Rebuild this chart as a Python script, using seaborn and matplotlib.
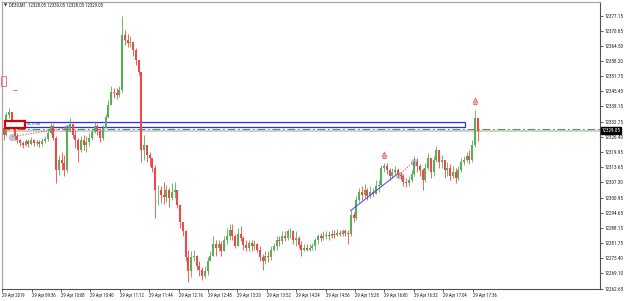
import matplotlib
matplotlib.use("Agg")
import matplotlib.pyplot as plt
from matplotlib.patches import Rectangle
from matplotlib import font_manager
import seaborn as sns
import numpy as np
import pandas as pd

# ---------------- data ----------------
chart_title = "DE30,M1  12328.05 12330.05 12328.05 12329.05"
start_time = "2019-04-29 09:04"
bar_freq = "3min"

opens = [
12330.2, 12327.3, 12335.7, 12336.9, 12332.7, 12326.9, 12325.2, 12323.9, 12323.1, 12324.8,
12323.5, 12325.2, 12323.9, 12324.4, 12323.5, 12324.8, 12325.6, 12328.1, 12331.1, 12326.0,
12312.6, 12316.8, 12315.6, 12312.6, 12330.2, 12331.9, 12327.3, 12325.2, 12321.0, 12325.2,
12323.1, 12324.4, 12326.0, 12328.5, 12331.1, 12329.0, 12326.0, 12330.2, 12334.8, 12339.9,
12345.3, 12344.9, 12344.1, 12346.2, 12369.2, 12367.1, 12365.8, 12366.3, 12362.9, 12358.7,
12353.7, 12321.0, 12323.1, 12318.9, 12317.7, 12313.5, 12304.3, 12304.3, 12302.2, 12301.3,
12304.3, 12300.9, 12303.4, 12304.3, 12298.0, 12290.8, 12286.7, 12275.8, 12269.9, 12275.8,
12276.6, 12272.4, 12270.7, 12268.2, 12269.9, 12274.1, 12276.6, 12281.6, 12279.9, 12281.6,
12278.3, 12283.3, 12285.0, 12287.5, 12285.0, 12280.8, 12285.8, 12284.1, 12281.2, 12279.9,
12282.0, 12280.4, 12281.6, 12279.1, 12275.8, 12274.1, 12276.6, 12275.8, 12279.1, 12280.4,
12283.3, 12282.5, 12285.0, 12284.1, 12286.7, 12286.7, 12283.3, 12284.1, 12281.2, 12279.1,
12279.9, 12279.1, 12279.9, 12280.4, 12283.3, 12284.6, 12284.1, 12285.0, 12285.4, 12285.0,
12285.8, 12285.4, 12286.2, 12285.8, 12286.7, 12286.2, 12285.8, 12293.8, 12292.5, 12300.1,
12303.4, 12302.2, 12304.3, 12301.7, 12303.4, 12302.6, 12305.9, 12306.3, 12313.5, 12314.3,
12312.6, 12310.1, 12311.8, 12312.6, 12310.5, 12310.1, 12307.6, 12307.2, 12308.4, 12311.0,
12316.0, 12314.3, 12312.6, 12308.4, 12313.5, 12317.7, 12311.8, 12316.8, 12321.0, 12316.0,
12316.8, 12312.6, 12313.5, 12310.1, 12311.8, 12309.3, 12312.6, 12316.0, 12316.8, 12318.5,
12316.8, 12323.1, 12334.4,
]
highs = [
12332.3, 12336.9, 12338.6, 12336.9, 12332.7, 12328.1, 12325.6, 12324.8, 12325.6, 12325.6,
12326.5, 12325.6, 12325.6, 12325.2, 12326.0, 12326.9, 12329.4, 12332.7, 12331.9, 12326.9,
12318.9, 12320.2, 12318.9, 12331.5, 12334.4, 12331.5, 12329.4, 12326.0, 12326.9, 12327.3,
12326.9, 12328.1, 12330.2, 12332.7, 12331.9, 12330.2, 12331.5, 12336.1, 12342.0, 12347.8,
12347.0, 12347.0, 12347.8, 12377.15, 12371.3, 12369.6, 12368.8, 12366.3, 12363.7, 12358.7,
12353.7, 12327.3, 12323.1, 12320.2, 12317.7, 12314.7, 12306.3, 12305.9, 12307.6, 12306.3,
12305.1, 12307.2, 12307.6, 12304.3, 12298.0, 12290.8, 12287.5, 12279.1, 12278.3, 12279.1,
12277.0, 12274.1, 12271.6, 12272.4, 12275.8, 12278.3, 12285.0, 12283.3, 12283.3, 12282.5,
12285.0, 12288.3, 12290.0, 12290.0, 12285.8, 12288.3, 12289.2, 12285.0, 12283.3, 12283.3,
12283.3, 12283.3, 12282.0, 12280.8, 12277.4, 12278.3, 12278.3, 12280.8, 12282.0, 12285.0,
12285.0, 12286.7, 12286.7, 12287.9, 12288.3, 12287.5, 12286.7, 12285.0, 12282.5, 12281.6,
12281.6, 12281.6, 12282.0, 12284.1, 12285.8, 12286.2, 12286.7, 12287.1, 12287.1, 12287.5,
12287.5, 12287.9, 12287.5, 12287.9, 12287.9, 12287.5, 12295.5, 12295.0, 12301.7, 12305.1,
12305.9, 12306.8, 12305.1, 12305.9, 12305.1, 12308.4, 12308.4, 12314.7, 12315.6, 12315.6,
12313.5, 12313.5, 12314.3, 12313.5, 12311.8, 12311.0, 12309.3, 12310.1, 12312.6, 12318.5,
12317.7, 12315.1, 12313.5, 12315.6, 12319.8, 12317.7, 12318.5, 12322.7, 12321.0, 12318.9,
12316.8, 12316.0, 12315.1, 12314.3, 12313.5, 12314.3, 12317.7, 12318.5, 12320.2, 12321.0,
12325.2, 12337.8, 12334.4,
]
lows = [
12325.2, 12326.9, 12334.4, 12331.9, 12325.2, 12323.9, 12322.7, 12321.9, 12322.7, 12322.3,
12323.1, 12322.7, 12322.7, 12322.3, 12322.7, 12323.9, 12324.8, 12327.7, 12325.2, 12307.2,
12310.5, 12312.6, 12310.1, 12311.8, 12328.5, 12326.0, 12321.9, 12316.0, 12320.2, 12321.0,
12320.2, 12322.7, 12325.2, 12328.1, 12327.3, 12324.4, 12325.2, 12330.2, 12334.4, 12339.9,
12342.8, 12342.4, 12343.2, 12345.3, 12365.0, 12364.2, 12364.2, 12360.4, 12356.6, 12352.4,
12316.0, 12316.8, 12316.0, 12314.3, 12311.8, 12292.5, 12298.0, 12298.8, 12298.4, 12299.2,
12297.1, 12300.1, 12300.9, 12296.7, 12288.3, 12285.0, 12274.1, 12265.3, 12267.4, 12274.1,
12270.7, 12268.2, 12266.5, 12267.0, 12268.6, 12274.1, 12276.6, 12276.6, 12278.3, 12276.2,
12278.3, 12281.6, 12283.3, 12283.3, 12279.9, 12280.8, 12282.5, 12279.1, 12278.3, 12278.3,
12278.3, 12279.1, 12277.9, 12274.1, 12270.7, 12273.2, 12273.7, 12274.9, 12278.3, 12279.1,
12280.8, 12281.6, 12282.5, 12283.3, 12284.1, 12281.6, 12280.8, 12279.9, 12276.6, 12278.3,
12278.3, 12278.3, 12279.1, 12279.1, 12281.6, 12282.5, 12283.3, 12283.7, 12283.3, 12284.1,
12284.1, 12284.6, 12284.6, 12285.0, 12284.6, 12281.6, 12285.0, 12290.8, 12291.7, 12299.2,
12300.1, 12300.9, 12300.1, 12300.9, 12301.7, 12302.6, 12303.4, 12305.9, 12311.8, 12311.0,
12308.4, 12309.3, 12310.5, 12309.3, 12308.4, 12305.9, 12305.5, 12305.9, 12307.6, 12310.1,
12311.8, 12310.1, 12304.3, 12307.6, 12312.6, 12309.3, 12310.1, 12316.0, 12313.5, 12313.5,
12309.3, 12310.1, 12308.4, 12309.3, 12307.2, 12308.4, 12311.8, 12314.7, 12316.0, 12315.1,
12316.0, 12322.3, 12324.8,
]
closes = [
12327.3, 12335.7, 12336.9, 12332.7, 12326.9, 12325.2, 12323.9, 12323.1, 12324.8, 12323.5,
12325.2, 12323.9, 12324.4, 12323.5, 12324.8, 12325.6, 12328.1, 12331.1, 12326.0, 12312.6,
12316.8, 12315.6, 12312.6, 12330.2, 12331.9, 12327.3, 12325.2, 12321.0, 12325.2, 12323.1,
12324.4, 12326.0, 12328.5, 12331.1, 12329.0, 12326.0, 12330.2, 12334.8, 12339.9, 12345.3,
12344.9, 12344.1, 12346.2, 12369.2, 12367.1, 12365.8, 12366.3, 12362.9, 12358.7, 12353.7,
12321.0, 12323.1, 12318.9, 12317.7, 12313.5, 12304.3, 12304.3, 12302.2, 12301.3, 12304.3,
12300.9, 12303.4, 12304.3, 12298.0, 12290.8, 12286.7, 12275.8, 12269.9, 12275.8, 12276.6,
12272.4, 12270.7, 12268.2, 12269.9, 12274.1, 12276.6, 12281.6, 12279.9, 12281.6, 12278.3,
12283.3, 12285.0, 12287.5, 12285.0, 12280.8, 12285.8, 12284.1, 12281.2, 12279.9, 12282.0,
12280.4, 12281.6, 12279.1, 12275.8, 12274.1, 12276.6, 12275.8, 12279.1, 12280.4, 12283.3,
12282.5, 12285.0, 12284.1, 12286.7, 12286.7, 12283.3, 12284.1, 12281.2, 12279.1, 12279.9,
12279.1, 12279.9, 12280.4, 12283.3, 12284.6, 12284.1, 12285.0, 12285.4, 12285.0, 12285.8,
12285.4, 12286.2, 12285.8, 12286.7, 12286.2, 12285.8, 12293.8, 12292.5, 12300.1, 12303.4,
12302.2, 12304.3, 12301.7, 12303.4, 12302.6, 12305.9, 12306.3, 12313.5, 12314.3, 12312.6,
12310.1, 12311.8, 12312.6, 12310.5, 12310.1, 12307.6, 12307.2, 12308.4, 12311.0, 12316.0,
12314.3, 12312.6, 12308.4, 12313.5, 12317.7, 12311.8, 12316.8, 12321.0, 12316.0, 12316.8,
12312.6, 12313.5, 12310.1, 12311.8, 12309.3, 12312.6, 12316.0, 12316.8, 12318.5, 12316.8,
12323.1, 12334.4, 12329.05,
]

price_ticks = [12377.15, 12370.85, 12364.50, 12358.20, 12351.75, 12345.45, 12339.15,
               12332.75, 12326.40, 12319.95, 12313.65, 12307.30, 12300.95, 12294.65,
               12288.15, 12281.75, 12275.40, 12269.10, 12262.65]
time_tick_labels = ["29 Apr 2019", "29 Apr 09:36", "29 Apr 10:08", "29 Apr 10:40",
                    "29 Apr 11:12", "29 Apr 11:44", "29 Apr 12:16", "29 Apr 12:48",
                    "29 Apr 13:20", "29 Apr 13:52", "29 Apr 14:24", "29 Apr 14:56",
                    "29 Apr 15:28", "29 Apr 16:00", "29 Apr 16:32", "29 Apr 17:04",
                    "29 Apr 17:36"]
last_price = 12329.05

# drawn objects on the chart (times, prices)
zone_times = ["09:28", "17:28"]
zone_prices = [12330.5, 12332.6]
box_times = ["09:07", "09:29"]
box_prices = [12330.2, 12333.2]
box_text = "SL 0.00"
dotted1_times = ["09:15", "10:14"]
dotted1_prices = [12326.5, 12330.2]
trend_times = ["15:23", "16:13"]
trend_prices = [12295.4, 12310.5]
dotted2_times = ["16:16", "16:32"]
dotted2_prices = [12310.5, 12316.0]
alert_times = ["15:59", "17:38"]
alert_prices = [12319.3, 12342.0]
level_green = 12329.65
level_gray = 12328.75
mini_box_times = ["09:03", "09:08"]
mini_box_prices = [12347.8, 12352.0]
mini_dash_times = ["09:16", "09:20"]
mini_dash_price = 12346.2

# ---------------- helpers ----------------
t0 = pd.Timestamp(start_time)
def to_min(hhmm):
    return (pd.Timestamp("2019-04-29 " + hhmm) - t0).total_seconds() / 60.0

df = pd.DataFrame({"open": opens, "high": highs, "low": lows, "close": closes})
df["time"] = pd.date_range(start_time, periods=len(df), freq=bar_freq)
df["minute"] = (df["time"] - t0).dt.total_seconds() / 60.0 + 1.5
df["up"] = df["close"] >= df["open"]

tick_times = pd.date_range(start_time, periods=len(time_tick_labels), freq="32min")
tick_minutes = [(t - t0).total_seconds() / 60.0 for t in tick_times]

# ---------------- style ----------------
sns.set_theme(style="white")

def pick_family():
    for fam in ["Liberation Sans Narrow", "DejaVu Sans Condensed", "Roboto Condensed",
                "Liberation Sans"]:
        try:
            font_manager.findfont(font_manager.FontProperties(family=fam),
                                  fallback_to_default=False)
            return fam
        except Exception:
            continue
    return "DejaVu Sans"

FAM = pick_family()
plt.rcParams['font.family'] = [FAM, 'DejaVu Sans']

W, H = 625, 301
fig = plt.figure(figsize=(W / 100, H / 100), dpi=100)
fig.patch.set_facecolor("white")
renderer = fig.canvas.get_renderer()

def fit_size(sample, target_px):
    t = fig.text(0, 0, sample, fontsize=10)
    w = t.get_window_extent(renderer=renderer).width
    t.remove()
    return 10 * target_px / w

ytick_fs = fit_size("12377.15", 19.0)
xtick_fs = fit_size("29 Apr 09:36", 24.0)
title_fs = fit_size(chart_title, 94.0)

ax = fig.add_axes([2 / W, 12 / H, 598 / W, 287 / H])
ax.set_facecolor("white")

px_per_min = 29.4 / 32.0
ax.set_xlim(-0.3, 598 / px_per_min - 0.3)
ax.set_ylim(12262.55, 12383.0)

# horizontal levels
ax.axhline(level_gray, color="#c4c4c4", lw=1.1, zorder=1)
ax.axhline(level_green, color="#4f9a4f", lw=0.8, ls=(0, (7, 2.5, 1.5, 2.5)), zorder=1)

# zone rectangle
zx = [to_min(t) for t in zone_times]
ax.add_patch(Rectangle((zx[0], zone_prices[0]), zx[1] - zx[0], zone_prices[1] - zone_prices[0],
                       fill=False, ec="#2b2bff", lw=0.9, zorder=1.5))

# candles
green, red = "#5aad5a", "#f04848"
colors = np.where(df["up"], green, red)
ax.vlines(df["minute"], df["low"], df["high"], colors=colors, lw=0.6, zorder=2)
ax.vlines(df["minute"], df["open"], df["close"], colors=colors, lw=1.5, zorder=2)

# trend line and dotted connectors
sns.lineplot(x=[to_min(t) for t in trend_times], y=trend_prices, ax=ax,
             color="#4040ff", lw=0.7, zorder=3)
for times, prices in [(dotted1_times, dotted1_prices), (dotted2_times, dotted2_prices)]:
    xs = [to_min(t) for t in times]
    sns.lineplot(x=xs, y=prices, ax=ax, color="#f04040", lw=0.7,
                 linestyle=(0, (1.2, 1.5)), zorder=3)
    ax.scatter(xs, prices, s=28, color="#808080", alpha=0.45, lw=0, zorder=3)

# alerts
ax.scatter([to_min(t) for t in alert_times], alert_prices, marker="^", s=14,
           color="#f6a0a0", edgecolor="#e05050", lw=0.4, zorder=4)
ax.scatter([to_min(t) for t in alert_times], [p - 1.6 for p in alert_prices], marker="_",
           s=10, color="#e05050", lw=0.6, zorder=4)

# small red box with text
bx = [to_min(t) for t in box_times]
ax.add_patch(Rectangle((bx[0], box_prices[0]), bx[1] - bx[0], box_prices[1] - box_prices[0],
                       fc="white", ec="#e00000", lw=1.6, zorder=5))
ax.text(bx[1] + 1.5, (box_prices[0] + box_prices[1]) / 2, box_text, fontsize=xtick_fs * 0.9,
        color="#303030", va="center", ha="left", zorder=5)

# mini pink objects at the left
mx = [to_min(t) for t in mini_box_times]
ax.add_patch(Rectangle((mx[0], mini_box_prices[0]), mx[1] - mx[0],
                       mini_box_prices[1] - mini_box_prices[0],
                       fill=False, ec="#f08080", lw=0.8, zorder=4, clip_on=False))
ax.plot([to_min(t) for t in mini_dash_times], [mini_dash_price] * 2, color="#f08080",
        lw=0.8, zorder=4)

# axes / spines
for s in ["left", "top"]:
    ax.spines[s].set_color("#a8a8a8")
    ax.spines[s].set_linewidth(0.9)
for s in ["right", "bottom"]:
    ax.spines[s].set_color("#505050")
    ax.spines[s].set_linewidth(0.8)

ax.yaxis.tick_right()
ax.set_yticks(price_ticks)
ax.set_yticklabels([f"{p:.2f}" for p in price_ticks])
ax.tick_params(axis="y", direction="out", length=2, width=0.5, pad=1.0,
               labelsize=ytick_fs, colors="#202020", left=False, right=True)
ax.set_xticks(tick_minutes)
ax.set_xticklabels(time_tick_labels, ha="left")
ax.tick_params(axis="x", direction="out", length=2, width=0.5, pad=0.8,
               labelsize=xtick_fs, colors="#202020", bottom=True)
ax.set_xlabel("")
ax.set_ylabel("")
ax.grid(False)

# current price label
ax.annotate(f"{last_price:.2f}", xy=(1, last_price), xycoords=("axes fraction", "data"),
            xytext=(1.0, 0), textcoords="offset points", ha="left", va="center",
            fontsize=ytick_fs, color="white", annotation_clip=False,
            bbox=dict(boxstyle="square,pad=0.15", fc="black", ec="black"))

# title
fig.text(4 / W, 1 - 5.5 / H, "\u25bc", fontsize=3, color="#202020", va="center", ha="left",
         family=["DejaVu Sans"])
fig.text(9 / W, 1 - 5.5 / H, chart_title, fontsize=title_fs, color="#202020",
         va="center", ha="left")

fig.savefig("out.png", dpi=100)
